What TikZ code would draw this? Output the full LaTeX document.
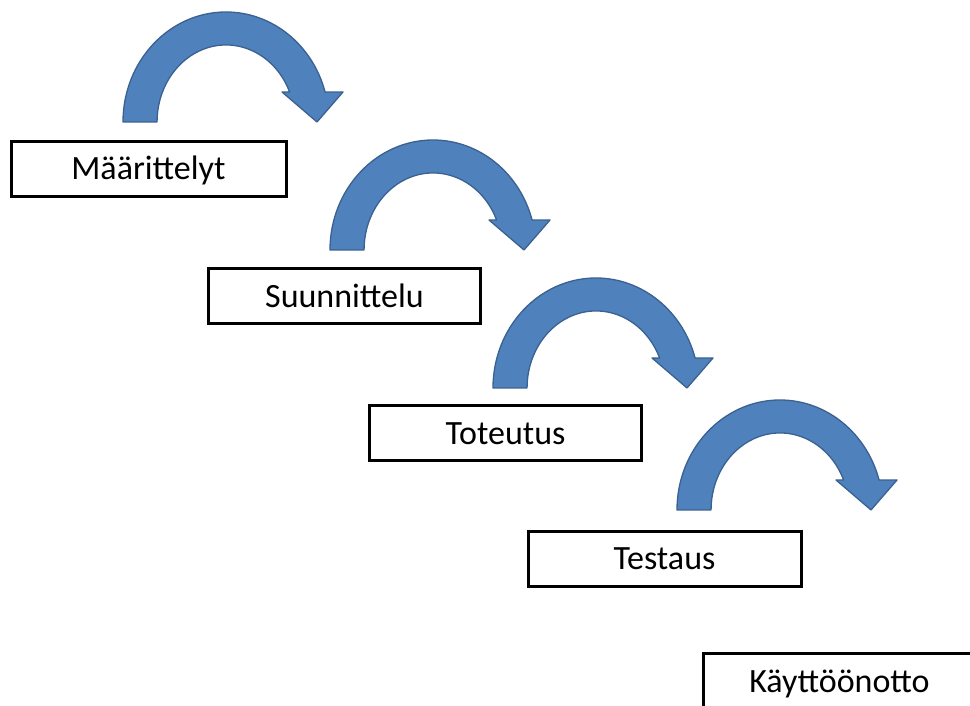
\documentclass[tikz,border=0pt]{standalone}
\usepackage{fontspec}
\setmainfont{Carlito}
\definecolor{arrowblue}{HTML}{4F81BD}
\definecolor{arrowedge}{HTML}{3A6190}
\begin{document}
\begin{tikzpicture}[x=1pt,y=1pt,
  phase/.style={draw=black, line width=3pt, fill=white, inner sep=0pt,
    minimum width=272pt, minimum height=55pt,
    font=\fontsize{34}{40}\selectfont, text height=21.5pt, text depth=0pt},
  arrowfill/.style={fill=arrowblue, draw=arrowedge, line width=1.3pt, line join=round},
  turnarrow/.pic={
    \draw[arrowfill] (0,0)
      arc[start angle=180, end angle=15.8, x radius=103pt, y radius=110pt]
      -- (220,30) -- (194,0) -- (159,30) -- (166.6,30)
      arc[start angle=22.9, end angle=180, x radius=69pt, y radius=77pt]
      -- cycle;
  }]
  \clip (0,0) rectangle (970,706);
  \fill[white] (0,0) rectangle (970,706);

  % curved arrows between the phases
  \pic at (123,584) {turnarrow};
  \pic at (330,456) {turnarrow};
  \pic at (493,318) {turnarrow};
  \pic at (677,196) {turnarrow};

  % phase boxes
  \node[phase, minimum width=275pt] (m) at (148.5,537) {Määrittelyt};
  \node[phase] (s) at (344.5,409.5) {Suunnittelu};
  \node[phase] (t) at (505.5,272.5) {Toteutus};
  \node[phase, minimum width=273pt] (te) at (664.5,147) {Testaus};
  \node[phase] (k) at (839.5,24.5) {Käyttöönotto};
\end{tikzpicture}
\end{document}
